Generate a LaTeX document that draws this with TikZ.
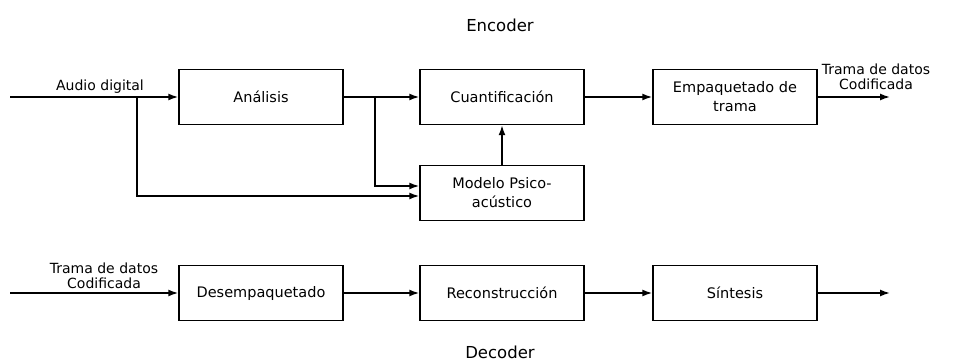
\documentclass[tikz,border=0pt]{standalone}
\usepackage{fontspec}
\setmainfont{DejaVu Sans}
\usetikzlibrary{arrows.meta}
\tikzset{
  bloque/.style={draw, line width=1.5pt, minimum width=164pt, minimum height=55pt,
    inner sep=2pt, align=center, font=\fontsize{14.5}{19}\selectfont},
  etiqueta/.style={align=center, inner sep=1pt, font=\fontsize{14}{15}\selectfont},
  titulo/.style={font=\fontsize{16.5}{18}\selectfont},
  flecha/.style={line width=1.5pt, -{Latex[length=10pt,width=7pt]}}
}
\begin{document}
\begin{tikzpicture}[x=1pt,y=-1pt]
      \useasboundingbox (0,0) rectangle (955,363);
      \draw
        (261,97) node[bloque] (analisis){Análisis}
        (502,97) node[bloque] (cuant){Cuantificación}
        (735,97) node[bloque] (empaq){Empaquetado de\\trama}
        (502,193) node[bloque] (modelo){Modelo Psico-\\acústico}
        (261,293) node[bloque] (desemp){Desempaquetado}
        (502,293) node[bloque] (recons){Reconstrucción}
        (735,293) node[bloque] (sintesis){Síntesis};
      \coordinate (ent) at (10,97);
      \coordinate (r0) at (137,97);
      \coordinate (r1) at (375,97);
      \coordinate (sal) at (890,97);
      \coordinate (entd) at (10,293);
      \coordinate (sald) at (890,293);
      \node[titulo] (enc) at (500,25) {Encoder};
      \node[titulo] (dec) at (500,352) {Decoder};
      \node[etiqueta, anchor=south] (audio) at (100,95) {Audio digital};
      \node[etiqueta, anchor=south] (tramaout) at (876,91) {Trama de datos\\Codificada};
      \node[etiqueta, anchor=south] (tramain) at (104,290) {Trama de datos\\Codificada};
      \begin{scope}[flecha]
        \draw (ent) to (analisis.west);
        \draw (analisis.east) to (cuant.west);
        \draw (r1) |- ([yshift=7pt]modelo.west);
        \draw (r0) |- ([yshift=-3pt]modelo.west);
        \draw (modelo.north) to (cuant.south);
        \draw (cuant.east) to (empaq.west);
        \draw (empaq.east) to (sal);
        \draw (entd) to (desemp.west);
        \draw (desemp.east) to (recons.west);
        \draw (recons.east) to (sintesis.west);
        \draw (sintesis.east) to (sald);
      \end{scope}
    \end{tikzpicture}
\end{document}
